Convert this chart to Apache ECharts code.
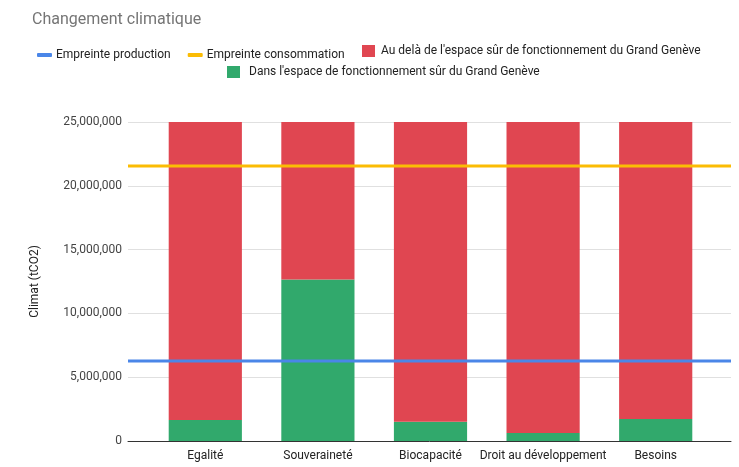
<!DOCTYPE html>
<html>
<head>
<meta charset="utf-8">
<script src="https://cdn.jsdelivr.net/npm/echarts@6/dist/echarts.min.js"></script>
<style>
  html, body { margin: 0; padding: 0; background: #fff; }
  #main { width: 739px; height: 467px; }
</style>
</head>
<body>
<div id="main"></div>
<script>
// scenarios on the x axis
const categories = ['Egalité', 'Souveraineté', 'Biocapacité', 'Droit au développement', 'Besoins'];
// inside the safe operating space (green)
const dansEspace = [1650000, 12650000, 1500000, 630000, 1720000];
// beyond the safe operating space (red), stacks up to 25M
const auDela = [23350000, 12350000, 23500000, 24370000, 23280000];
// footprints, drawn as flat lines
const empreinteProduction = [6270000, 6270000, 6270000, 6270000, 6270000];
const empreinteConsommation = [21550000, 21550000, 21550000, 21550000, 21550000];

const font = 'Roboto, Arial, sans-serif';
const chart = echarts.init(document.getElementById('main'));

const yMax = 25000000;

const option = {
  animation: false,
  textStyle: { fontFamily: font },
  title: {
    text: 'Changement climatique',
    left: 27, top: 7,
    textStyle: { fontFamily: font, fontSize: 16, fontWeight: 'normal', color: '#757575' }
  },
  legend: [
    {
      data: ['Empreinte production', 'Empreinte consommation'],
      left: 32, top: 44,
      icon: 'roundRect', itemWidth: 15, itemHeight: 4, itemGap: 17,
      textStyle: { fontSize: 12, color: '#222', fontFamily: font, padding: [0, 0, 0, -1] }
    },
    {
      data: ['Au delà de l\'espace sûr de fonctionnement du Grand Genève'],
      left: 357, top: 40,
      icon: 'rect', itemWidth: 13, itemHeight: 12,
      textStyle: { fontSize: 12, color: '#222', fontFamily: font, padding: [0, 0, 0, 1] }
    },
    {
      data: ['Dans l\'espace de fonctionnement sûr du Grand Genève'],
      left: 222, top: 61,
      icon: 'rect', itemWidth: 13, itemHeight: 12,
      textStyle: { fontSize: 12, color: '#222', fontFamily: font, padding: [0, 0, 0, 4] }
    }
  ],
  grid: [
    // full-width plot: gridlines, zero line, footprint lines
    { left: 128, right: 8, top: 122, bottom: 26 },
    // bars sit in a slightly narrower band
    { left: 149, right: 27, top: 122, bottom: 26 }
  ],
  xAxis: [
    {
      type: 'category',
      gridIndex: 0,
      data: categories,
      boundaryGap: false,
      z: 3,
      axisTick: { show: false },
      axisLabel: { show: false },
      axisLine: { lineStyle: { color: '#333', width: 1 } }
    },
    {
      type: 'category',
      gridIndex: 1,
      data: categories,
      axisTick: { show: false },
      axisLine: { show: false },
      axisLabel: { color: '#222', fontSize: 12, margin: 9, interval: 0 }
    }
  ],
  yAxis: [
    {
      type: 'value',
      gridIndex: 0,
      min: 0, max: yMax, interval: 5000000,
      name: 'Climat (tCO2)',
      nameLocation: 'middle',
      nameGap: 87,
      nameTextStyle: { color: '#222', fontSize: 12 },
      axisLabel: {
        color: '#444', fontSize: 12, margin: 6,
        formatter: v => v.toLocaleString('en-US')
      },
      axisLine: { show: false },
      axisTick: { show: false },
      splitLine: { lineStyle: { color: '#e0e0e0' } }
    },
    {
      type: 'value',
      gridIndex: 1,
      min: 0, max: yMax, interval: 5000000,
      show: false,
      splitLine: { show: false }
    }
  ],
  series: [
    {
      name: 'Dans l\'espace de fonctionnement sûr du Grand Genève',
      type: 'bar', stack: 'total',
      xAxisIndex: 1, yAxisIndex: 1,
      barWidth: '65%',
      data: dansEspace,
      itemStyle: { color: '#31a96c' }
    },
    {
      name: 'Au delà de l\'espace sûr de fonctionnement du Grand Genève',
      type: 'bar', stack: 'total',
      xAxisIndex: 1, yAxisIndex: 1,
      barWidth: '65%',
      data: auDela,
      itemStyle: { color: '#e04651' }
    },
    {
      name: 'Empreinte production',
      type: 'line', xAxisIndex: 0, yAxisIndex: 0,
      z: 5,
      data: empreinteProduction,
      symbol: 'none',
      lineStyle: { color: '#4a86e8', width: 3 },
      itemStyle: { color: '#4a86e8' }
    },
    {
      name: 'Empreinte consommation',
      type: 'line', xAxisIndex: 0, yAxisIndex: 0,
      z: 5,
      data: empreinteConsommation,
      symbol: 'none',
      lineStyle: { color: '#fbbc04', width: 3 },
      itemStyle: { color: '#fbbc04' }
    }
  ]
};
chart.setOption(option);
</script>
</body>
</html>
